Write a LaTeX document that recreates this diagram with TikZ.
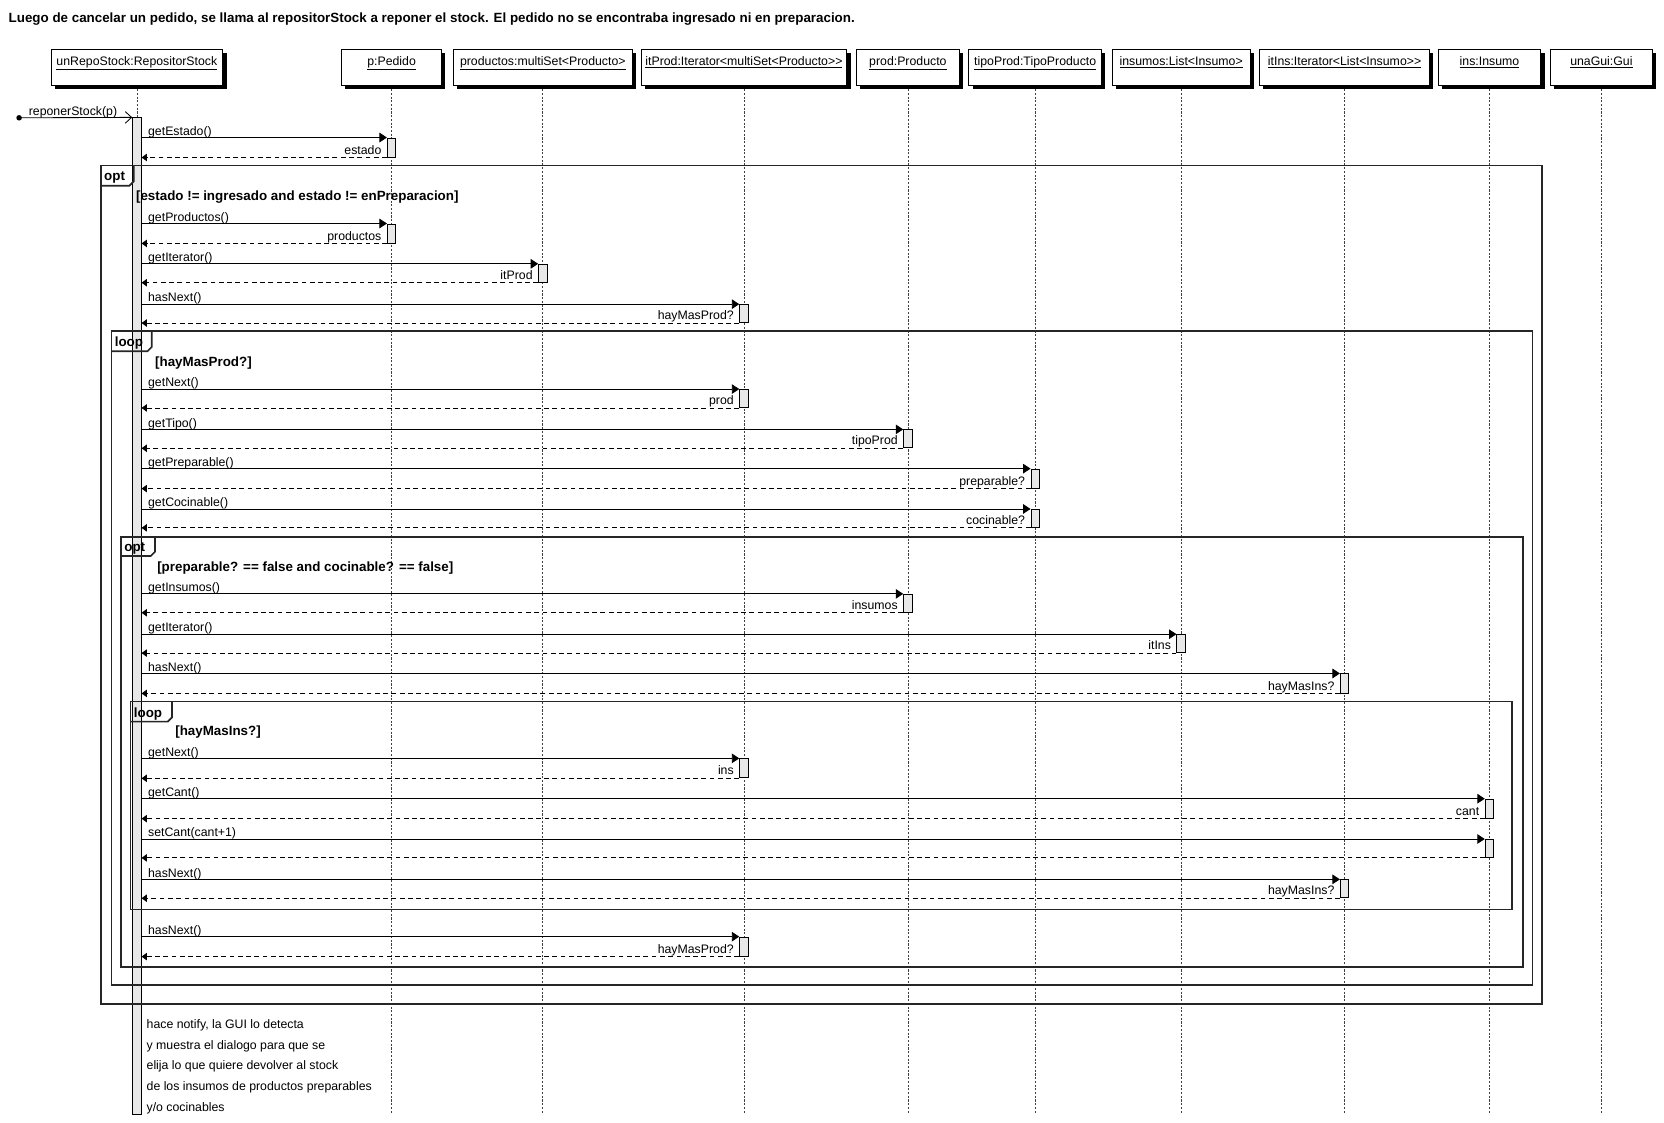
\documentclass[tikz,border=0pt]{standalone}
\usepackage{fontspec}
\setmainfont{Liberation Sans}
\usetikzlibrary{arrows.meta,shadows}

\newcommand{\basefont}{\fontsize{11.6}{14}\selectfont}
\newcommand{\boldfont}{\fontsize{12.6}{15}\selectfont\bfseries}

\tikzset{
  head/.style={draw, fill=white, line width=0.8pt, anchor=north, inner xsep=3pt, inner ysep=2.5pt,
    text height=12.5pt, text depth=16.5pt,
    general shadow={fill=black, shadow xshift=3.5pt, shadow yshift=-3.5pt}},
  lifeline/.style={draw=black!75, line width=0.7pt, dash pattern=on 2pt off 1.5pt},
  actbar/.style={draw, fill=black!9, line width=0.8pt, minimum width=8pt, inner sep=0pt},
  call/.style={line width=0.8pt, -{Triangle[length=7pt,width=9pt]}},
  ret/.style={line width=0.8pt, dash pattern=on 4.5pt off 3.3pt, -{Triangle[length=5pt,width=7pt]}},
  found/.style={line width=0.8pt, -{Straight Barb[length=6pt,width=11pt]}},
  msglbl/.style={anchor=south west, inner xsep=0pt, inner ysep=2pt, text depth=0pt},
  retlbl/.style={anchor=south east, inner xsep=0pt, inner ysep=3pt, text depth=0pt},
  frame/.style={draw=black!85, line width=1.6pt},
  tablbl/.style={anchor=west, inner sep=0pt, font=\boldfont},
  guard/.style={anchor=west, inner sep=0pt, font=\boldfont},
  notelbl/.style={anchor=west, inner sep=0pt},
}

\begin{document}
\begin{tikzpicture}[x=1pt,y=1pt,yscale=-1,xscale=1,font=\basefont]
\useasboundingbox (0,0) rectangle (1568,1058);

% Title
\node[anchor=west, inner sep=0pt, font=\boldfont] (title) at (8,18) {Luego de cancelar un pedido, se llama al repositorStock a reponer el stock. El pedido no se encontraba ingresado ni en preparacion.};

% Objects
\node[head, minimum width=162] (hRepo) at (129,46) {\underline{unRepoStock:RepositorStock}};
\node[head, minimum width=94] (hPedido) at (369,46) {\underline{p:Pedido}};
\node[head, minimum width=169] (hProductos) at (511.5,46) {\underline{productos:multiSet<Producto>}};
\node[head, minimum width=194] (hItProd) at (701,46) {\underline{itProd:Iterator<multiSet<Producto>{}>}};
\node[head, minimum width=97] (hProd) at (855.5,46) {\underline{prod:Producto}};
\node[head, minimum width=125] (hTipo) at (975.5,46) {\underline{tipoProd:TipoProducto}};
\node[head, minimum width=130] (hInsumos) at (1113,46) {\underline{insumos:List<Insumo>}};
\node[head, minimum width=160] (hItIns) at (1267,46) {\underline{itIns:Iterator<List<Insumo>{}>}};
\node[head, minimum width=97] (hIns) at (1403.5,46) {\underline{ins:Insumo}};
\node[head, minimum width=96] (hGui) at (1509,46) {\underline{unaGui:Gui}};

% Lifelines
\foreach \h in {hRepo,hPedido,hProductos,hItProd,hProd,hTipo,hInsumos,hItIns,hIns,hGui}
  \draw[lifeline] (\h.south |- 0,84) -- (\h.south |- 0,1050);

% Activation of unRepoStock
\node[actbar, minimum height=939] (act0) at (129,580.5) {};

% Combined fragments
\draw[frame] (95,156) rectangle (1453,946);
\draw[frame] (95,175) -- (122,175) -- (126,171) -- (126,156);
\node[tablbl] (tabOpt1) at (98,167.5) {opt};
\node[guard] (gOpt1) at (128,186) {[estado != ingresado and estado != enPreparacion]};

\draw[frame] (105,312) rectangle (1444,928);
\draw[frame] (105,331) -- (139,331) -- (143,327) -- (143,312);
\node[tablbl] (tabLoop1) at (108,323.5) {loop};
\node[guard] (gLoop1) at (146,342) {[hayMasProd?]};

\draw[frame] (114,506) rectangle (1435,911);
\draw[frame] (114,524) -- (142,524) -- (146,520) -- (146,506);
\node[tablbl] (tabOpt2) at (117,516.5) {opt};
\node[guard] (gOpt2) at (148,535) {[preparable? == false and cocinable? == false]};

\draw[frame] (123,661) rectangle (1425,857);
\draw[frame] (123,680) -- (158,680) -- (162,676) -- (162,661);
\node[tablbl] (tabLoop2) at (126,672.5) {loop};
\node[guard] (gLoop2) at (165,690) {[hayMasIns?]};

% Found message
\coordinate (start) at (18,111);
\fill (start) circle (2.6pt);
\draw[found] (start) -- (act0.north west);
\node[msglbl] (lStart) at (27,111) {reponerStock(p)};

% Messages: call y / return y / target / call / reply
\foreach \c/\r/\t/\m/\v [count=\i] in {
  130/148/hPedido/getEstado()/estado,
  211/229/hPedido/getProductos()/productos,
  249/266/hProductos/getIterator()/itProd,
  287/304/hItProd/hasNext()/hayMasProd?,
  367/384/hItProd/getNext()/prod,
  405/422/hProd/getTipo()/tipoProd,
  442/460/hTipo/getPreparable()/preparable?,
  480/497/hTipo/getCocinable()/cocinable?,
  560/577/hProd/getInsumos()/insumos,
  598/615/hInsumos/getIterator()/itIns,
  635/653/hItIns/hasNext()/hayMasIns?,
  715/733/hItProd/getNext()/ins,
  753/771/hIns/getCant()/cant,
  791/808/hIns/setCant(cant+1)/{},
  829/846/hItIns/hasNext()/hayMasIns?,
  883/901/hItProd/hasNext()/hayMasProd?}{
  \pgfmathsetmacro{\mid}{(\c+\r)/2}
  \pgfmathsetmacro{\len}{\r-\c}
  \node[actbar, minimum height=\len] (a\i) at (\t.south |- 0,\mid) {};
  \draw[call] (act0.east |- a\i.north) -- (a\i.north west);
  \draw[ret] (a\i.south west) -- (act0.east |- a\i.south);
  \node[msglbl, xshift=6pt] (m\i) at (act0.east |- a\i.north) {\m};
  \node[retlbl, xshift=-5pt] (r\i) at (a\i.south west) {\v};
}

% Note
\node[notelbl] (n1) at (138,966) {hace notify, la GUI lo detecta};
\node[notelbl] (n2) at (138,985.5) {y muestra el dialogo para que se};
\node[notelbl] (n3) at (138,1005) {elija lo que quiere devolver al stock};
\node[notelbl] (n4) at (138,1024.5) {de los insumos de productos preparables};
\node[notelbl] (n5) at (138,1044) {y/o cocinables};

\end{tikzpicture}
\end{document}
